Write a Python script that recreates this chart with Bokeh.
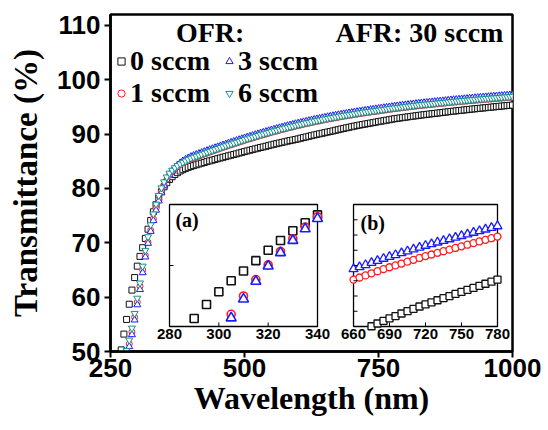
from bokeh.plotting import figure
from bokeh.models import Range1d, FixedTicker, Legend, LegendItem, Label
from bokeh.core.properties import value
from bokeh.embed import file_html
from bokeh.resources import INLINE

# ---------------- data ----------------
wavelength = [
    270, 275, 280, 285, 290, 295, 300, 305, 310, 315, 320, 325, 330, 335, 340, 345, 350, 355, 360, 365,
    370, 375, 380, 385, 390, 395, 400, 405, 410, 415, 420, 425, 430, 435, 440, 445, 450, 455, 460, 465,
    470, 475, 480, 485, 490, 495, 500, 505, 510, 515, 520, 525, 530, 535, 540, 545, 550, 555, 560, 565,
    570, 575, 580, 585, 590, 595, 600, 605, 610, 615, 620, 625, 630, 635, 640, 645, 650, 655, 660, 665,
    670, 675, 680, 685, 690, 695, 700, 705, 710, 715, 720, 725, 730, 735, 740, 745, 750, 755, 760, 765,
    770, 775, 780, 785, 790, 795, 800, 805, 810, 815, 820, 825, 830, 835, 840, 845, 850, 855, 860, 865,
    870, 875, 880, 885, 890, 895, 900, 905, 910, 915, 920, 925, 930, 935, 940, 945, 950, 955, 960, 965,
    970, 975, 980, 985, 990, 995, 1000,
]

t_0sccm = [
    50.3, 53.2, 55.9, 58.7, 61.3, 63.6, 65.7, 67.5, 69.1, 70.8, 72.5, 74.1, 75.7, 77.0, 78.3, 79.4, 80.3,
    81.05, 81.65, 82.15, 82.55, 82.9, 83.2, 83.45, 83.68, 83.88, 84.05,
    84.20, 84.35, 84.50, 84.64, 84.78, 84.93, 85.07, 85.20, 85.33, 85.47,
    85.60, 85.73, 85.86, 86.00, 86.12, 86.24, 86.37, 86.51, 86.64, 86.78,
    86.90, 87.03, 87.15, 87.28, 87.40, 87.53, 87.64, 87.76, 87.88, 88.01,
    88.13, 88.24, 88.36, 88.47, 88.58, 88.70, 88.80, 88.90, 89.01, 89.11,
    89.24, 89.36, 89.47, 89.59, 89.71, 89.83, 89.94, 90.05, 90.15, 90.26,
    90.37, 90.47, 90.58, 90.70, 90.81, 90.93, 91.04, 91.15, 91.25, 91.36,
    91.46, 91.56, 91.66, 91.75, 91.84, 91.93, 92.02, 92.11, 92.20, 92.29,
    92.38, 92.46, 92.55, 92.64, 92.73, 92.82, 92.89, 92.96, 93.03, 93.10,
    93.17, 93.23, 93.30, 93.37, 93.44, 93.50, 93.56, 93.62, 93.68, 93.75,
    93.80, 93.86, 93.92, 93.98, 94.04, 94.10, 94.16, 94.22, 94.27, 94.33,
    94.38, 94.44, 94.49, 94.55, 94.60, 94.65, 94.70, 94.75, 94.80, 94.85,
    94.90, 94.95, 95.00, 95.05, 95.10, 95.15, 95.20, 95.25, 95.29, 95.33,
]

t_1sccm = [
    45.0, 47.3, 49.5, 51.4, 53.6, 56.3, 59.1, 62.0, 65.0, 67.7, 70.1, 72.3, 74.4, 76.3, 78.0, 79.4, 80.6,
    81.6, 82.4, 83.05, 83.6, 84.05, 84.4, 84.7, 84.95, 85.2, 85.42,
    85.59, 85.78, 85.96, 86.14, 86.32, 86.50, 86.68, 86.85, 87.02, 87.19,
    87.36, 87.53, 87.70, 87.87, 88.03, 88.19, 88.35, 88.51, 88.67, 88.83,
    88.98, 89.13, 89.28, 89.43, 89.58, 89.73, 89.87, 90.01, 90.15, 90.29,
    90.43, 90.56, 90.69, 90.82, 90.95, 91.08, 91.20, 91.32, 91.44, 91.56,
    91.68, 91.79, 91.90, 92.01, 92.12, 92.23, 92.33, 92.43, 92.53, 92.63,
    92.73, 92.82, 92.91, 93.00, 93.09, 93.18, 93.27, 93.35, 93.43, 93.51,
    93.59, 93.67, 93.75, 93.83, 93.90, 93.97, 94.04, 94.11, 94.18, 94.25,
    94.32, 94.39, 94.46, 94.53, 94.60, 94.67, 94.73, 94.79, 94.85, 94.91,
    94.97, 95.03, 95.09, 95.15, 95.21, 95.26, 95.31, 95.36, 95.41, 95.46,
    95.51, 95.56, 95.61, 95.66, 95.71, 95.76, 95.81, 95.86, 95.90, 95.95,
    95.99, 96.04, 96.08, 96.13, 96.17, 96.22, 96.26, 96.30, 96.34, 96.38,
    96.42, 96.46, 96.50, 96.54, 96.58, 96.62, 96.66, 96.70, 96.74, 96.78,
]

t_3sccm = [
    44.5, 46.8, 49.0, 50.9, 53.1, 55.8, 58.6, 61.4, 64.5, 67.4, 69.9, 72.1, 74.1, 76.0, 77.7, 79.2, 80.5,
    81.6, 82.5, 83.2, 83.8, 84.3, 84.7, 85.05, 85.35, 85.6, 85.85,
    86.04, 86.23, 86.41, 86.59, 86.77, 86.95, 87.13, 87.30, 87.47, 87.64,
    87.81, 87.98, 88.15, 88.32, 88.48, 88.64, 88.80, 88.96, 89.12, 89.28,
    89.43, 89.58, 89.73, 89.88, 90.03, 90.18, 90.32, 90.46, 90.60, 90.74,
    90.88, 91.01, 91.14, 91.27, 91.40, 91.53, 91.65, 91.77, 91.89, 92.01,
    92.13, 92.24, 92.35, 92.46, 92.57, 92.68, 92.78, 92.88, 92.98, 93.08,
    93.18, 93.27, 93.36, 93.45, 93.54, 93.63, 93.72, 93.80, 93.88, 93.96,
    94.04, 94.12, 94.20, 94.28, 94.35, 94.42, 94.49, 94.56, 94.63, 94.70,
    94.77, 94.84, 94.91, 94.98, 95.05, 95.12, 95.18, 95.24, 95.30, 95.36,
    95.42, 95.48, 95.54, 95.60, 95.66, 95.71, 95.76, 95.81, 95.86, 95.91,
    95.96, 96.01, 96.06, 96.11, 96.16, 96.21, 96.26, 96.31, 96.35, 96.40,
    96.44, 96.49, 96.53, 96.58, 96.62, 96.67, 96.71, 96.75, 96.79, 96.83,
    96.87, 96.91, 96.95, 96.99, 97.03, 97.07, 97.11, 97.15, 97.19, 97.23,
]

t_6sccm = [
    45.5, 48.0, 50.2, 52.1, 54.3, 57.0, 59.8, 62.6, 65.7, 68.6, 71.1, 73.3, 75.3, 77.1, 78.7, 80.1, 81.2,
    82.1, 82.8, 83.35, 83.8, 84.2, 84.5, 84.8, 85.05, 85.3, 85.55,
    85.74, 85.93, 86.11, 86.29, 86.47, 86.65, 86.83, 87.00, 87.17, 87.34,
    87.51, 87.68, 87.85, 88.02, 88.18, 88.34, 88.50, 88.66, 88.82, 88.98,
    89.13, 89.28, 89.43, 89.58, 89.73, 89.88, 90.02, 90.16, 90.30, 90.44,
    90.58, 90.71, 90.84, 90.97, 91.10, 91.23, 91.35, 91.47, 91.59, 91.71,
    91.83, 91.94, 92.05, 92.16, 92.27, 92.38, 92.48, 92.58, 92.68, 92.78,
    92.88, 92.97, 93.06, 93.15, 93.24, 93.33, 93.42, 93.50, 93.58, 93.66,
    93.74, 93.82, 93.90, 93.98, 94.05, 94.12, 94.19, 94.26, 94.33, 94.40,
    94.47, 94.54, 94.61, 94.68, 94.75, 94.82, 94.88, 94.94, 95.00, 95.06,
    95.12, 95.18, 95.24, 95.30, 95.36, 95.41, 95.46, 95.51, 95.56, 95.61,
    95.66, 95.71, 95.76, 95.81, 95.86, 95.91, 95.96, 96.01, 96.05, 96.10,
    96.14, 96.19, 96.23, 96.28, 96.32, 96.37, 96.41, 96.45, 96.49, 96.53,
    96.57, 96.61, 96.65, 96.69, 96.73, 96.77, 96.81, 96.85, 96.89, 96.93,
]

series_labels = ["0 sccm", "1 sccm", "3 sccm", "6 sccm"]
x_ticks = [250, 500, 750, 1000]
y_ticks = [50, 60, 70, 80, 90, 100, 110]
inset_a_xticks = [280, 300, 320, 340]
inset_b_xticks = [660, 690, 720, 750, 780]

# ---------------- styling ----------------
SERIF = "Liberation Serif"
SANS = "Liberation Sans"
colors = ["#111111", "#ff1a1a", "#1a1aff", "#129191"]
markers = ["square", "circle", "triangle", "inverted_triangle"]
main_sizes = [6, 6, 7, 7]
a_sizes = [8, 8, 10, 10]
b_sizes = [7, 7, 9, 9]
all_series = [t_0sccm, t_1sccm, t_3sccm, t_6sccm]

p = figure(width=548, height=430, x_range=Range1d(250, 1000), y_range=Range1d(50, 112),
           output_backend="svg", toolbar_location=None,
           min_border_left=110, min_border_right=36, min_border_top=14, min_border_bottom=79)
p.xgrid.visible = False
p.ygrid.visible = False
p.outline_line_color = "black"
p.outline_line_width = 2.5
p.background_fill_color = "white"

for ax in (p.xaxis[0], p.yaxis[0]):
    ax.axis_line_width = 2.5
    ax.axis_line_color = "black"
    ax.major_tick_line_width = 2
    ax.major_tick_line_color = "black"
    ax.major_tick_out = 6
    ax.major_tick_in = 0
    ax.minor_tick_line_color = None
    ax.major_label_text_font = SANS
    ax.major_label_text_font_style = "bold"
    ax.major_label_text_font_size = "26px"
    ax.major_label_text_color = "black"
    ax.axis_label_text_font = SERIF
    ax.axis_label_text_font_style = "bold"
    ax.axis_label_text_color = "black"

p.xaxis.ticker = FixedTicker(ticks=x_ticks)
p.yaxis.ticker = FixedTicker(ticks=y_ticks)
p.xaxis.axis_label = "Wavelength (nm)"
p.yaxis.axis_label = "Transmittance (%)"
p.xaxis.axis_label_text_font_size = "32px"
p.yaxis.axis_label_text_font_size = "33px"
p.xaxis.major_label_standoff = 1
p.xaxis.axis_label_standoff = 0
p.yaxis.major_label_standoff = 4
p.yaxis.axis_label_standoff = 10

# main curves
renderers = []
for ys, mk, col, sz in zip(all_series, markers, colors, main_sizes):
    r = p.scatter(x=wavelength, y=ys, marker=mk, size=sz, line_color=col, line_width=1,
                  fill_color="white")
    renderers.append(r)

# legends (two columns)
leg_common = dict(padding=0, margin=0, spacing=-3, glyph_width=18, glyph_height=18,
                  label_standoff=0, border_line_color=None, background_fill_alpha=0,
                  label_text_font=SERIF, label_text_font_style="bold", label_text_font_size="28px",
                  label_text_color="black")
legA = Legend(items=[LegendItem(label=series_labels[0], renderers=[renderers[0]]),
                     LegendItem(label=series_labels[1], renderers=[renderers[1]])],
              location=(2, 242), **leg_common)
legB = Legend(items=[LegendItem(label=series_labels[2], renderers=[renderers[2]]),
                     LegendItem(label=series_labels[3], renderers=[renderers[3]])],
              location=(110, 242), **leg_common)
p.add_layout(legA)
p.add_layout(legB)

p.add_layout(Label(x=436, y=108.7, text="OFR:", text_align="center", text_baseline="middle",
                   text_font=SERIF, text_font_style="bold", text_font_size="28px", text_color="black"))
p.add_layout(Label(x=983, y=108.7, text="AFR: 30 sccm", text_align="right", text_baseline="middle",
                   text_font=SERIF, text_font_style="bold", text_font_size="28px", text_color="black"))


def inset(xs_rng, ys_rng, xt_rng, yt_rng, xticks, yticks, tag, tag_pos, sizes, series_idx, lw):
    sub = p.subplot(x_source=Range1d(*xs_rng), y_source=Range1d(*ys_rng),
                    x_target=Range1d(*xt_rng), y_target=Range1d(*yt_rng))
    x0, x1 = xs_rng
    y0, y1 = ys_rng
    sub.quad(left=[x0], right=[x1], bottom=[y0], top=[y1], fill_color="white",
             line_color="black", line_width=1.3)
    for i in series_idx:
        pts = [(x, y) for x, y in zip(wavelength, all_series[i]) if x0 <= x <= x1 and y0 <= y <= y1]
        sub.scatter(x=[q[0] for q in pts], y=[q[1] for q in pts], marker=markers[i], size=sizes[i],
                    line_color=colors[i], line_width=lw, fill_color="white")
    sub.ray(x=xticks, y=[y0] * len(xticks), length=4, length_units="screen", angle=1.5708,
            line_color="black", line_width=1)
    sub.ray(x=[x0] * len(yticks), y=yticks, length=4, length_units="screen", angle=0,
            line_color="black", line_width=1)
    sub.text(x=xticks, y=[y0] * len(xticks), text=[str(t) for t in xticks], text_align="center",
             text_baseline="top", y_offset=3, text_font=value(SANS), text_font_style="bold",
             text_font_size="15px", text_color="black")
    sub.text(x=[tag_pos[0]], y=[tag_pos[1]], text=[tag], text_align="left", text_baseline="middle",
             text_font=value(SERIF), text_font_style="bold", text_font_size="20px", text_color="black")


# inset (a): 280-340 nm, 60-80 %
inset((280, 340), (60, 80), (360.1, 636.2), (54.6, 77.04), inset_a_xticks, [70],
      "(a)", (282.4, 77.4), a_sizes, [0, 1, 2], 1.6)

# inset (b): 660-780 nm
b_lo, b_hi = 90.8, 96.05
b_yticks = [b_lo + k * (b_hi - b_lo) / 8 for k in range(1, 8)]
inset((660, 780), (b_lo, b_hi), (703.4, 972.0), (54.6, 77.04), inset_b_xticks, b_yticks,
      "(b)", (665.8, 95.27), b_sizes, [0, 1, 2], 1.3)

open("out.html", "w").write(file_html(p, INLINE))
